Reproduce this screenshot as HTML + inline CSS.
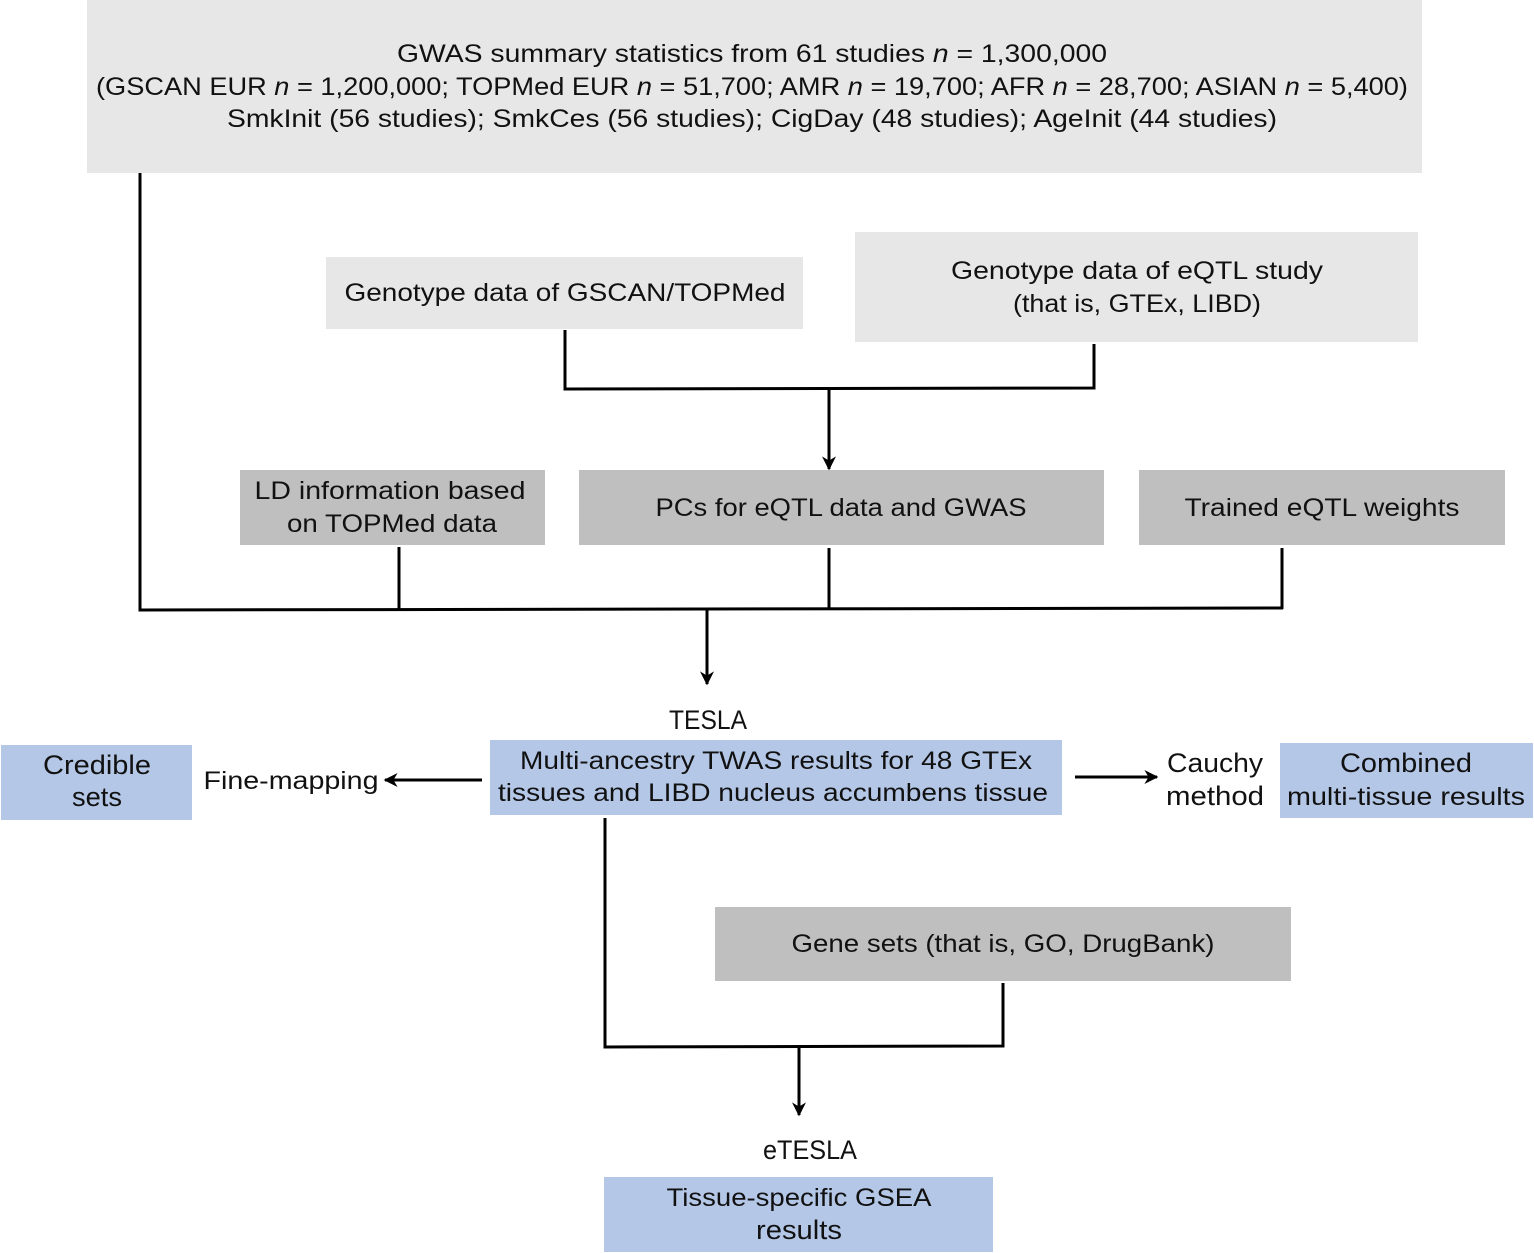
<!DOCTYPE html>
<html><head><meta charset="utf-8"><style>
html,body{margin:0;padding:0;background:#fff}
svg{display:block}
text{font-family:"Liberation Sans",sans-serif;font-size:25px;fill:#111}
.s{font-size:27px}
</style></head><body>
<svg width="1534" height="1253" viewBox="0 0 1534 1253">
<defs>
<marker id="b" viewBox="0 0 10 10" refX="9" refY="5" markerWidth="18" markerHeight="14" orient="auto" markerUnits="userSpaceOnUse"><path d="M0,0 L10,5 L0,10 L3,5 z" fill="#000"/></marker></defs>
<rect x="87" y="0" width="1335" height="173" fill="#e7e7e7"/>
<rect x="326" y="257" width="477" height="72" fill="#e7e7e7"/>
<rect x="855" y="232" width="563" height="110" fill="#e7e7e7"/>
<rect x="240" y="470" width="305" height="75" fill="#bfbfbf"/>
<rect x="579" y="470" width="525" height="75" fill="#bfbfbf"/>
<rect x="1139" y="470" width="366" height="75" fill="#bfbfbf"/>
<rect x="490" y="740" width="572" height="75" fill="#b4c7e7"/>
<rect x="1" y="745" width="191" height="75" fill="#b4c7e7"/>
<rect x="1280" y="743" width="253" height="75" fill="#b4c7e7"/>
<rect x="715" y="907" width="576" height="74" fill="#bfbfbf"/>
<rect x="604" y="1177" width="389" height="75" fill="#b4c7e7"/>
<g stroke="#000" stroke-width="3" fill="none">
<polyline points="140,173 140,610 1283,608"/>
<line x1="399" y1="547" x2="399" y2="609"/>
<line x1="829" y1="548" x2="829" y2="609"/>
<line x1="1282" y1="548" x2="1282" y2="609"/>
<line x1="707" y1="610" x2="707" y2="684" marker-end="url(#b)"/>
<polyline points="565,330 565,389 1094,388 1094,344"/>
<line x1="829" y1="389" x2="829" y2="469" marker-end="url(#b)"/>
<polyline points="605,818 605,1047 1003,1046 1003,983"/>
<line x1="799" y1="1047" x2="799" y2="1115" marker-end="url(#b)"/>
<line x1="482" y1="780" x2="385" y2="780" marker-end="url(#b)"/>
<line x1="1075" y1="777" x2="1157" y2="777" marker-end="url(#b)"/>
</g>
<g text-anchor="middle">
<text x="752" y="62" textLength="710" lengthAdjust="spacingAndGlyphs">GWAS summary statistics from 61 studies <tspan font-style="italic">n</tspan> = 1,300,000</text>
<text x="752" y="95" textLength="1312" lengthAdjust="spacingAndGlyphs">(GSCAN EUR <tspan font-style="italic">n</tspan> = 1,200,000; TOPMed EUR <tspan font-style="italic">n</tspan> = 51,700; AMR <tspan font-style="italic">n</tspan> = 19,700; AFR <tspan font-style="italic">n</tspan> = 28,700; ASIAN <tspan font-style="italic">n</tspan> = 5,400)</text>
<text x="752" y="127" textLength="1050" lengthAdjust="spacingAndGlyphs">SmkInit (56 studies); SmkCes (56 studies); CigDay (48 studies); AgeInit (44 studies)</text>
<text x="565" y="301" textLength="441" lengthAdjust="spacingAndGlyphs">Genotype data of GSCAN/TOPMed</text>
<text x="1137" y="279" textLength="372" lengthAdjust="spacingAndGlyphs">Genotype data of eQTL study</text>
<text x="1137" y="312" textLength="248" lengthAdjust="spacingAndGlyphs">(that is, GTEx, LIBD)</text>
<text x="390" y="499" textLength="271" lengthAdjust="spacingAndGlyphs">LD information based</text>
<text x="392" y="532" textLength="210" lengthAdjust="spacingAndGlyphs">on TOPMed data</text>
<text x="841" y="516" textLength="371" lengthAdjust="spacingAndGlyphs">PCs for eQTL data and GWAS</text>
<text x="1322" y="516" textLength="275" lengthAdjust="spacingAndGlyphs">Trained eQTL weights</text>
<text class="s" x="708" y="729" textLength="78" lengthAdjust="spacingAndGlyphs">TESLA</text>
<text x="776" y="769" textLength="512" lengthAdjust="spacingAndGlyphs">Multi-ancestry TWAS results for 48 GTEx</text>
<text x="773" y="801" textLength="550" lengthAdjust="spacingAndGlyphs">tissues and LIBD nucleus accumbens tissue</text>
<text class="s" x="97" y="774" textLength="108" lengthAdjust="spacingAndGlyphs">Credible</text>
<text class="s" x="97" y="806" textLength="50" lengthAdjust="spacingAndGlyphs">sets</text>
<text x="291" y="789" textLength="175" lengthAdjust="spacingAndGlyphs">Fine-mapping</text>
<text class="s" x="1215" y="772" textLength="96" lengthAdjust="spacingAndGlyphs">Cauchy</text>
<text class="s" x="1215" y="805" textLength="98" lengthAdjust="spacingAndGlyphs">method</text>
<text class="s" x="1406" y="772" textLength="132" lengthAdjust="spacingAndGlyphs">Combined</text>
<text x="1406" y="805" textLength="238" lengthAdjust="spacingAndGlyphs">multi-tissue results</text>
<text x="1003" y="952" textLength="423" lengthAdjust="spacingAndGlyphs">Gene sets (that is, GO, DrugBank)</text>
<text class="s" x="810" y="1159" textLength="94" lengthAdjust="spacingAndGlyphs">eTESLA</text>
<text x="799" y="1206" textLength="265" lengthAdjust="spacingAndGlyphs">Tissue-specific GSEA</text>
<text class="s" x="799" y="1239" textLength="86" lengthAdjust="spacingAndGlyphs">results</text>
</g>
</svg>
</body></html>
